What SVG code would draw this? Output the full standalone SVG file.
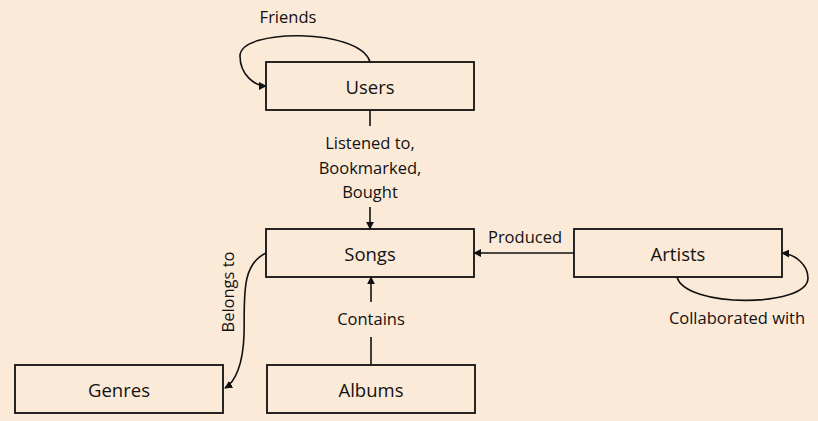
<svg xmlns="http://www.w3.org/2000/svg" width="818" height="421" viewBox="0 0 818 421">
<defs>
<marker id="arr" viewBox="0 0 10 10" refX="9" refY="5" markerWidth="8" markerHeight="8" markerUnits="userSpaceOnUse" orient="auto">
<path d="M0,0 L10,5 L0,10 z" fill="#111"/>
</marker>
</defs>
<style>
.node rect{fill:#fcead9;stroke:#111;stroke-width:1.8}
.node text{font-family:"Open Sans",sans-serif;font-size:18.5px;fill:#111;text-anchor:middle;dominant-baseline:central}
.lbl{font-family:"Open Sans",sans-serif;font-size:16.5px;fill:#111;text-anchor:middle}
.edge{fill:none;stroke:#111;stroke-width:1.6}
</style>
<rect width="818" height="421" fill="#fcead9"/>
<g id="users" class="node"><rect x="266" y="62" width="208" height="48"/><text x="370" y="86">Users</text></g>
<g id="songs" class="node"><rect x="266" y="229" width="208" height="48"/><text x="370" y="253">Songs</text></g>
<g id="artists" class="node"><rect x="574" y="229" width="208" height="48"/><text x="678" y="253">Artists</text></g>
<g id="genres" class="node"><rect x="15" y="365" width="208" height="48"/><text x="119" y="389">Genres</text></g>
<g id="albums" class="node"><rect x="267" y="365" width="208" height="48"/><text x="371" y="389">Albums</text></g>
<g id="connectors">
<path class="edge" d="M370,110 V126"/>
<path class="edge" d="M370,207 V229" marker-end="url(#arr)"/>
<path class="edge" d="M371,365 V337"/>
<path class="edge" d="M371,302 V277" marker-end="url(#arr)"/>
<path class="edge" d="M574,253 H474" marker-end="url(#arr)"/>
<path class="edge" d="M370,62 C360,28 240,28 240,56 C240,75 255,86 266,86" marker-end="url(#arr)"/>
<path class="edge" d="M677,277 C685,308 808,308 808,278 C808,265 795,254 782,253" marker-end="url(#arr)"/>
<path class="edge" d="M266,253 C240,265 245,300 244,335 C243,365 235,382 225,388" marker-end="url(#arr)"/>
</g>
<g id="labels">
<text class="lbl" x="288" y="23">Friends</text>
<text class="lbl" x="370" y="149">Listened to,</text>
<text class="lbl" x="370" y="174">Bookmarked,</text>
<text class="lbl" x="370" y="198">Bought</text>
<text class="lbl" x="371" y="325">Contains</text>
<text class="lbl" x="525" y="243">Produced</text>
<text class="lbl" x="737" y="324">Collaborated with</text>
<text class="lbl" transform="translate(234,292) rotate(-90)">Belongs to</text>
</g>
</svg>
